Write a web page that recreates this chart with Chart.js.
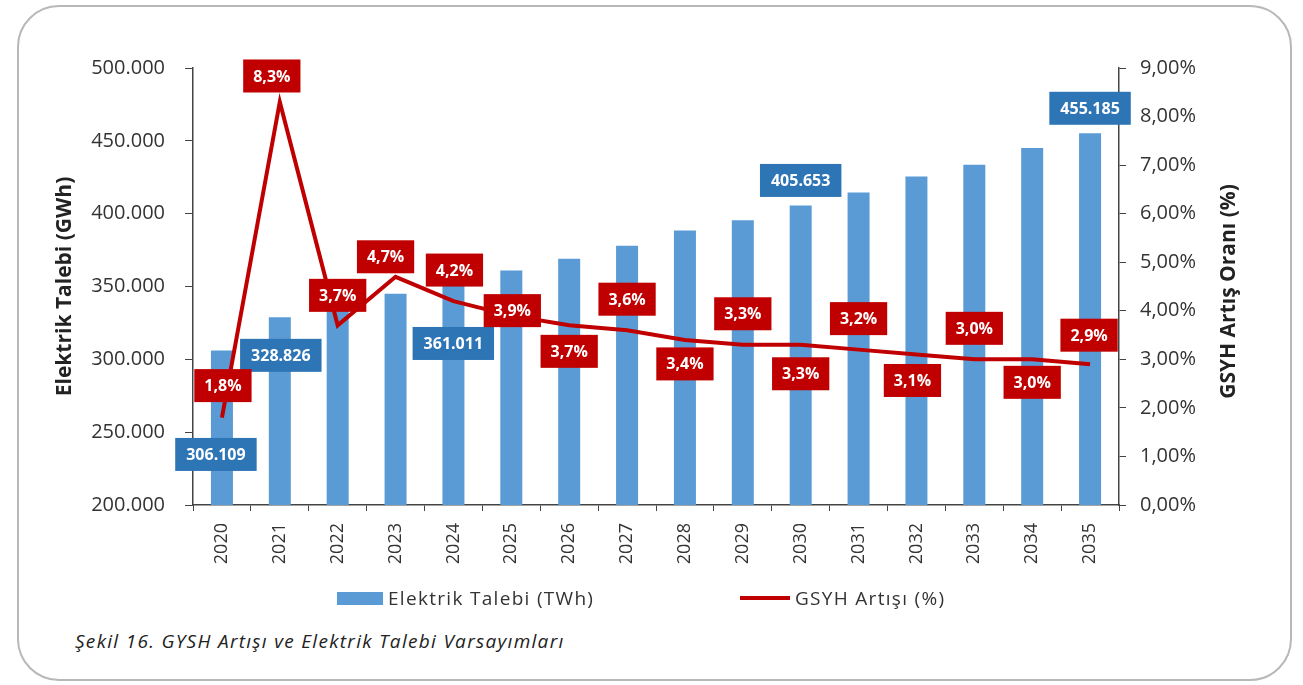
<!DOCTYPE html>
<html>
<head>
<meta charset="utf-8">
<script src="https://cdn.jsdelivr.net/npm/chart.js@4.4.1/dist/chart.umd.min.js"></script>
<style>
  html, body { margin: 0; padding: 0; background: #fff; width: 1303px; height: 685px; overflow: hidden; font-family: "Open Sans", sans-serif; }
  .card { position: absolute; left: 17px; top: 5px; width: 1275px; height: 676px; border: 2px solid #b8b8b8; border-radius: 42px; box-sizing: border-box; }
  #wrap { position: absolute; left: 0; top: 0; width: 1303px; height: 590px; }
  .leg { position: absolute; top: 584px; font-size: 19px; letter-spacing: 1.3px; color: #333; line-height: 28px; white-space: nowrap; }
  .swatch { position: absolute; }
  .caption { position: absolute; left: 75px; top: 628px; font-style: italic; font-size: 19px; letter-spacing: 1.3px; color: #222; white-space: nowrap; }
</style>
</head>
<body>
<div class="card"></div>
<div id="wrap"><canvas id="chart"></canvas></div>
<div class="swatch" style="left:337px;top:592px;width:46px;height:13px;background:#5b9bd5"></div>
<div class="leg" style="left:388px">Elektrik Talebi (TWh)</div>
<div class="swatch" style="left:740px;top:596px;width:50px;height:4px;background:#c00000"></div>
<div class="leg" style="left:795px">GSYH Artışı (%)</div>
<div class="caption">Şekil 16. GYSH Artışı ve Elektrik Talebi Varsayımları</div>
<script>
// veriler
const years = ['2020','2021','2022','2023','2024','2025','2026','2027','2028','2029','2030','2031','2032','2033','2034','2035'];
const demand = [306109, 328826, 337000, 345000, 352000, 361011, 369000, 378000, 388500, 395500, 405653, 414500, 425500, 433500, 445000, 455185];
const gdpGrowth = [1.8, 8.3, 3.7, 4.7, 4.2, 3.9, 3.7, 3.6, 3.4, 3.3, 3.3, 3.2, 3.1, 3.0, 3.0, 2.9];
const demandLabelIdx = [0, 1, 5, 10, 15];
const leftTicks = { min: 200000, max: 500000, step: 50000 };
const rightTicks = { min: 0, max: 9, step: 1 };

// etiket kaymalari (px)
const redOffsets = [[1,-32],[-8,-26],[0,-30],[-10,-20],[1,-31],[1,-5],[0,26],[0,-31],[0,24],[0,-31],[0,29],[0,-31],[-4,26],[0,-31],[0,23],[-1,-29]];
const blueOffsets = {0:[-6,104], 1:[1,38], 5:[-58,73], 10:[0,-25], 15:[0,-25]};

const thousands = v => String(Math.round(v)).replace(/\B(?=(\d{3})+(?!\d))/g, '.');
const pct = v => v.toFixed(1).replace('.', ',') + '%';

function drawBox(ctx, text, x, y, bg, pad) {
  const w = ctx.measureText(text).width + pad;
  const h = 33;
  ctx.fillStyle = bg;
  ctx.fillRect(x - w / 2, y - h / 2, w, h);
  ctx.fillStyle = '#fff';
  ctx.fillText(text, x, y + 1);
}

const boxLabels = {
  id: 'boxLabels',
  afterDatasetsDraw(chart) {
    const ctx = chart.ctx;
    const bars = chart.getDatasetMeta(0).data;
    const pts = chart.getDatasetMeta(1).data;
    ctx.save();
    ctx.font = 'bold 16px "Open Sans"';
    ctx.textAlign = 'center';
    ctx.textBaseline = 'middle';
    demandLabelIdx.forEach(i => {
      const o = blueOffsets[i];
      drawBox(ctx, thousands(demand[i]), bars[i].x + o[0], bars[i].y + o[1], '#2e75b6', 22);
    });
    pts.forEach((p, i) => {
      const o = redOffsets[i];
      drawBox(ctx, pct(gdpGrowth[i]), p.x + o[0], p.y + o[1], '#c00000', 20);
    });
    ctx.restore();
  },
  // sag eksen basligi alttan yukari okunuyor
  afterDraw(chart) {
    const ctx = chart.ctx;
    const a = chart.chartArea;
    ctx.save();
    ctx.translate(1229, (a.top + a.bottom) / 2 + 5);
    ctx.rotate(-Math.PI / 2);
    ctx.font = 'bold 21px "Open Sans"';
    ctx.fillStyle = '#222';
    ctx.textAlign = 'center';
    ctx.textBaseline = 'middle';
    ctx.fillText('GSYH Artış Oranı (%)', 0, 0);
    ctx.restore();
  }
};

Chart.defaults.font.family = '"Open Sans", sans-serif';

new Chart(document.getElementById('chart'), {
  type: 'bar',
  data: {
    labels: years,
    datasets: [
      {
        label: 'Elektrik Talebi (TWh)',
        data: demand,
        backgroundColor: '#5b9bd5',
        barPercentage: 0.38,
        categoryPercentage: 1.0,
        yAxisID: 'y',
        order: 2
      },
      {
        type: 'line',
        label: 'GSYH Artışı (%)',
        data: gdpGrowth,
        borderColor: '#c00000',
        borderWidth: 4,
        pointRadius: 0,
        tension: 0,
        yAxisID: 'y1',
        order: 1
      }
    ]
  },
  options: {
    responsive: true,
    maintainAspectRatio: false,
    animation: false,
    layout: { padding: { left: 48, right: 59, top: 68, bottom: 15 } },
    plugins: { legend: { display: false }, tooltip: { enabled: false } },
    scales: {
      x: {
        grid: { drawOnChartArea: false, tickLength: 6, color: '#444', offset: true },
        border: { color: '#444', width: 1.5 },
        ticks: { minRotation: 90, maxRotation: 90, autoSkip: false, padding: 12, color: '#333', font: { size: 18 } },
        afterFit: s => { s.height = 70; }
      },
      y: {
        position: 'left',
        min: leftTicks.min, max: leftTicks.max,
        grid: { drawOnChartArea: false, tickLength: 8, color: '#444' },
        border: { color: '#444', width: 1.5 },
        ticks: { stepSize: leftTicks.step, padding: 20, color: '#333', font: { size: 20 }, callback: v => thousands(v) },
        title: { display: true, text: 'Elektrik Talebi (GWh)', color: '#222', font: { size: 21, weight: 'bold' } },
        afterFit: s => { s.width = 145; }
      },
      y1: {
        position: 'right',
        min: rightTicks.min, max: rightTicks.max,
        grid: { drawOnChartArea: false, tickLength: 7, color: '#444' },
        border: { color: '#444', width: 1.5 },
        ticks: { stepSize: rightTicks.step, padding: 14, color: '#333', font: { size: 20 }, callback: v => v.toFixed(2).replace('.', ',') + '%' },
        afterFit: s => { s.width = 125; }
      }
    }
  },
  plugins: [boxLabels]
});
</script>
</body>
</html>
